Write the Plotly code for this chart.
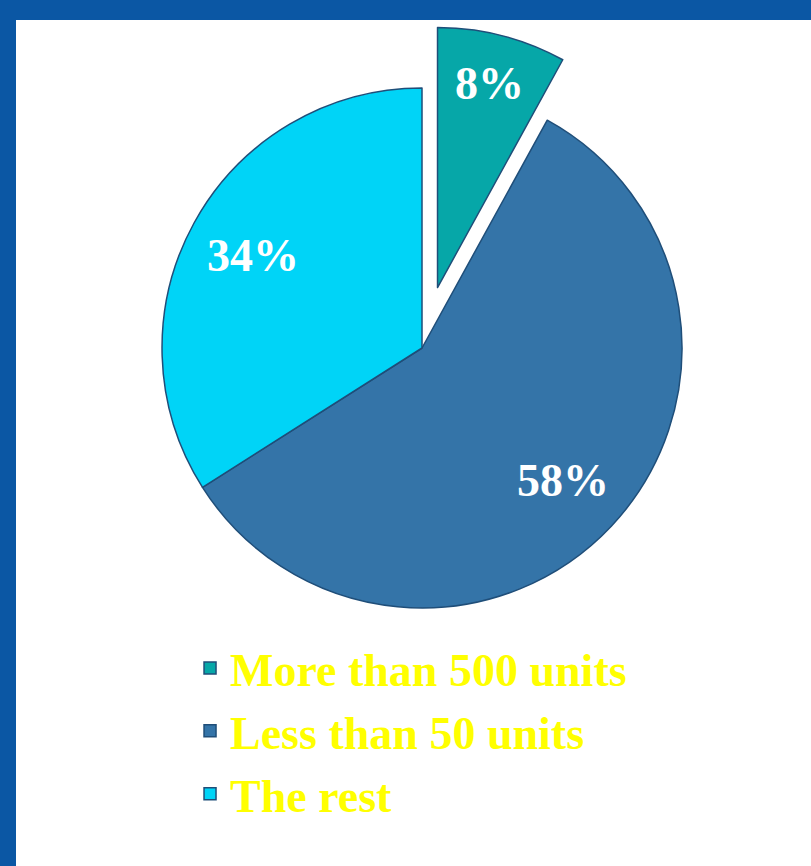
import math
import plotly.graph_objects as go

labels = ["More than 500 units", "Less than 50 units", "The rest"]
values = [8, 58, 34]
colors = ["#06A7A8", "#3474A8", "#00D4F7"]
pulls = [0.24, 0, 0]

# figure geometry
W, H = 811, 866
ML, MR, MT, MB = 16, 0, 20, 0
dom_x = [0.1052, 0.9162]
dom_y = [0.2311, 0.9935]
label_radius = [0.81, 0.745, 0.74]   # fraction of pie radius for label placement

fig = go.Figure()
fig.add_trace(go.Pie(
    labels=labels,
    values=values,
    sort=False,
    direction="clockwise",
    rotation=0,
    pull=pulls,
    marker=dict(colors=colors, line=dict(color="#1F4E79", width=1.5)),
    textinfo="none",
    domain=dict(x=dom_x, y=dom_y),
    hoverinfo="label+percent",
))

# percentage labels placed along each slice's mid-angle
pw, ph = W - ML - MR, H - MT - MB
dw, dh = pw * (dom_x[1] - dom_x[0]), ph * (dom_y[1] - dom_y[0])
r = min(dw, dh) / 2 / (1 + max(pulls))
cx = (dom_x[0] + dom_x[1]) / 2
cy = (dom_y[0] + dom_y[1]) / 2
total = sum(values)
cum = 0
annotations = []
for v, p, k in zip(values, pulls, label_radius):
    mid = (cum + v / 2) / total * 2 * math.pi
    cum += v
    rr = (p + k) * r
    annotations.append(dict(
        x=cx + rr * math.sin(mid) / pw,
        y=cy + rr * math.cos(mid) / ph,
        xref="paper", yref="paper", showarrow=False,
        text=f"{round(v / total * 100)}%",
        font=dict(family="Liberation Serif", size=46, color="white", weight="bold"),
        xanchor="center", yanchor="middle",
    ))

fig.update_layout(
    width=W, height=H,
    margin=dict(l=ML, r=MR, t=MT, b=MB),
    paper_bgcolor="#0B57A4",
    shapes=[dict(type="rect", xref="paper", yref="paper", x0=0, x1=1, y0=0, y1=1,
                 fillcolor="white", line=dict(width=0), layer="below")],
    annotations=annotations,
    showlegend=True,
    legend=dict(
        x=0.2189, y=0.277, xanchor="left", yanchor="top",
        font=dict(family="Liberation Serif", size=46, color="#FFFF00", weight="bold"),
        bgcolor="rgba(0,0,0,0)",
        traceorder="normal",
    ),
)

fig.write_html(
    "out.html",
    config={"displayModeBar": False},
    post_script="document.body.style.margin='0';document.body.style.background='#0B57A4';",
)
